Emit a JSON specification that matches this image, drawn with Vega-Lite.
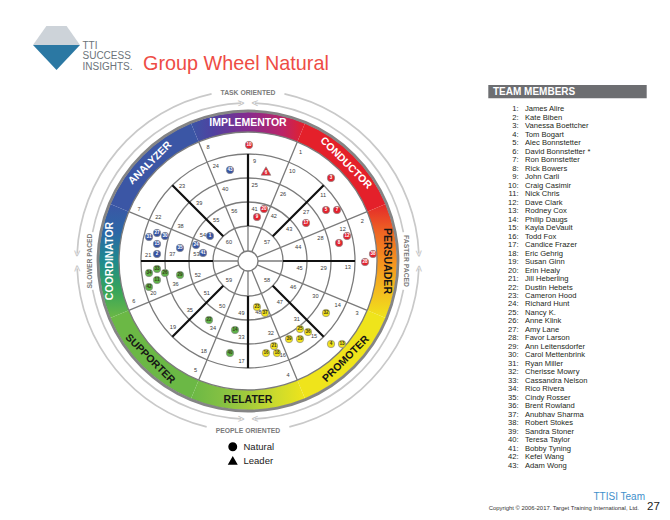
{
  "$schema": "https://vega.github.io/schema/vega-lite/v6.json",
  "width": 670,
  "height": 520,
  "autosize": "none",
  "padding": 0,
  "background": "white",
  "config": {
    "view": {"stroke": null},
    "axis": {"disable": true},
    "font": "Liberation Sans",
    "text": {"font": "Liberation Sans"}
  },
  "title": {
    "text": "Group Wheel Natural",
    "anchor": "start",
    "frame": "group",
    "offset": 0,
    "dx": 143,
    "dy": 90,
    "baseline": "alphabetic",
    "fontSize": 19.8,
    "fontWeight": "normal",
    "font": "Liberation Sans",
    "color": "#ee4c45"
  },
  "datasets": {
    "band": [
      {"s": "IMPLEMENTOR", "a": -22.5, "b": 22.5, "c": 0},
      {"s": "CONDUCTOR", "a": 22.5, "b": 67.5, "c": 45},
      {"s": "PERSUADER", "a": 67.5, "b": 112.5, "c": 90},
      {"s": "PROMOTER", "a": 112.5, "b": 157.5, "c": 135},
      {"s": "RELATER", "a": 157.5, "b": 202.5, "c": 180},
      {"s": "SUPPORTER", "a": 202.5, "b": 247.5, "c": 225},
      {"s": "COORDINATOR", "a": 247.5, "b": 292.5, "c": 270},
      {"s": "ANALYZER", "a": 292.5, "b": 337.5, "c": 315}
    ],
    "team": [
      {"id": 1, "name": "James Alire"}, {"id": 2, "name": "Kate Biben"}, {"id": 3, "name": "Vanessa Boettcher"},
      {"id": 4, "name": "Tom Bogart"}, {"id": 5, "name": "Alec Bonnstetter"}, {"id": 6, "name": "David Bonnstetter *"},
      {"id": 7, "name": "Ron Bonnstetter"}, {"id": 8, "name": "Rick Bowers"}, {"id": 9, "name": "John Carli"},
      {"id": 10, "name": "Craig Casimir"}, {"id": 11, "name": "Nick Chris"}, {"id": 12, "name": "Dave Clark"},
      {"id": 13, "name": "Rodney Cox"}, {"id": 14, "name": "Philip Daugs"}, {"id": 15, "name": "Kayla DeVault"},
      {"id": 16, "name": "Todd Fox"}, {"id": 17, "name": "Candice Frazer"}, {"id": 18, "name": "Eric Gehrig"},
      {"id": 19, "name": "Susan Ginn"}, {"id": 20, "name": "Erin Healy"}, {"id": 21, "name": "Jill Heberling"},
      {"id": 22, "name": "Dustin Hebets"}, {"id": 23, "name": "Cameron Hood"}, {"id": 24, "name": "Richard Hunt"},
      {"id": 25, "name": "Nancy K."}, {"id": 26, "name": "Anne Klink"}, {"id": 27, "name": "Amy Lane"},
      {"id": 28, "name": "Favor Larson"}, {"id": 29, "name": "Ann Leitensdorfer"}, {"id": 30, "name": "Carol Mettenbrink"},
      {"id": 31, "name": "Ryan Miller"}, {"id": 32, "name": "Cherisse Mowry"}, {"id": 33, "name": "Cassandra Nelson"},
      {"id": 34, "name": "Rico Rivera"}, {"id": 35, "name": "Cindy Rosser"}, {"id": 36, "name": "Brent Rowland"},
      {"id": 37, "name": "Anubhav Sharma"}, {"id": 38, "name": "Robert Stokes"}, {"id": 39, "name": "Sandra Stoner"},
      {"id": 40, "name": "Teresa Taylor"}, {"id": 41, "name": "Bobby Tyning"}, {"id": 42, "name": "Kefei Wang"},
      {"id": 43, "name": "Adam Wong"}
    ],
    "people": [
      {"n": 10, "g": "R", "k": "Natural", "x": 1, "y": 116},
      {"n": 6, "g": "R", "k": "Leader", "x": 18, "y": 90},
      {"n": 20, "g": "R", "k": "Natural", "x": 16, "y": 52},
      {"n": 9, "g": "R", "k": "Natural", "x": 9, "y": 44},
      {"n": 3, "g": "R", "k": "Natural", "x": 83, "y": 83},
      {"n": 5, "g": "R", "k": "Natural", "x": 78, "y": 51},
      {"n": 7, "g": "R", "k": "Natural", "x": 89, "y": 51},
      {"n": 17, "g": "R", "k": "Natural", "x": 58, "y": 38},
      {"n": 12, "g": "R", "k": "Natural", "x": 99, "y": 25},
      {"n": 8, "g": "R", "k": "Natural", "x": 91, "y": 18},
      {"n": 38, "g": "R", "k": "Natural", "x": 125, "y": 7},
      {"n": 28, "g": "R", "k": "Natural", "x": 117, "y": -1},
      {"n": 43, "g": "B", "k": "Natural", "x": -18, "y": 91},
      {"n": 31, "g": "B", "k": "Natural", "x": -99, "y": 24},
      {"n": 27, "g": "B", "k": "Natural", "x": -91, "y": 28},
      {"n": 30, "g": "B", "k": "Natural", "x": -83, "y": 25},
      {"n": 15, "g": "B", "k": "Natural", "x": -91, "y": 17},
      {"n": 2, "g": "B", "k": "Natural", "x": -91, "y": 7},
      {"n": 35, "g": "B", "k": "Natural", "x": -68, "y": 13},
      {"n": 24, "g": "B", "k": "Natural", "x": -52, "y": 16},
      {"n": 41, "g": "B", "k": "Natural", "x": -45, "y": 8},
      {"n": 1, "g": "B", "k": "Natural", "x": -38, "y": 25},
      {"n": 34, "g": "G", "k": "Natural", "x": -99, "y": -12},
      {"n": 33, "g": "G", "k": "Natural", "x": -91, "y": -8},
      {"n": 26, "g": "G", "k": "Natural", "x": -83, "y": -12},
      {"n": 11, "g": "G", "k": "Natural", "x": -91, "y": -19},
      {"n": 42, "g": "G", "k": "Natural", "x": -99, "y": -26},
      {"n": 29, "g": "G", "k": "Natural", "x": -68, "y": -14},
      {"n": 22, "g": "G", "k": "Natural", "x": -39, "y": -59},
      {"n": 14, "g": "G", "k": "Natural", "x": -13, "y": -69},
      {"n": 40, "g": "G", "k": "Natural", "x": -18, "y": -92},
      {"n": 23, "g": "Y", "k": "Natural", "x": 9, "y": -46},
      {"n": 37, "g": "Y", "k": "Natural", "x": 17, "y": -52},
      {"n": 32, "g": "Y", "k": "Natural", "x": 78, "y": -52},
      {"n": 25, "g": "Y", "k": "Natural", "x": 52, "y": -68},
      {"n": 36, "g": "Y", "k": "Natural", "x": 60, "y": -71},
      {"n": 39, "g": "Y", "k": "Natural", "x": 41, "y": -78},
      {"n": 19, "g": "Y", "k": "Natural", "x": 52, "y": -78},
      {"n": 21, "g": "Y", "k": "Natural", "x": 26, "y": -85},
      {"n": 16, "g": "Y", "k": "Natural", "x": 18, "y": -92},
      {"n": 18, "g": "Y", "k": "Natural", "x": 29, "y": -92},
      {"n": 4, "g": "Y", "k": "Natural", "x": 83, "y": -83},
      {"n": 13, "g": "Y", "k": "Natural", "x": 94, "y": -83}
    ]
  },
  "layer": [
    {
      "layer": [
        {
          "data": {"name": "band"},
          "transform": [{"filter": "indexof(['CONDUCTOR','PROMOTER','SUPPORTER','ANALYZER'], datum.s) >= 0"}],
          "mark": {"type": "arc"},
          "encoding": {
            "x": {"datum": 0, "type": "quantitative", "scale": {"domain": [-248, 422], "nice": false, "zero": false}},
            "y": {"datum": 0, "type": "quantitative", "scale": {"domain": [-259, 261], "nice": false, "zero": false}},
            "theta": {"field": "a", "type": "quantitative", "stack": null, "scale": {"type": "linear", "domain": [0, 360], "range": [0, 6.283185307179586], "zero": false, "nice": false}},
            "theta2": {"field": "b"},
            "radius": {"datum": 129, "type": "quantitative", "scale": {"type": "linear", "domain": [0, 200], "range": [0, 200], "zero": true, "nice": false}},
            "radius2": {"datum": 149},
            "fill": {"field": "s", "type": "nominal", "legend": null, "scale": {"domain": ["CONDUCTOR", "PROMOTER", "SUPPORTER", "ANALYZER"], "range": ["#e4202a", "#efe41b", "#6bb845", "#3b56a5"]}}
          }
        },
        {
          "data": {"name": "band"},
          "transform": [{"filter": "datum.s === 'IMPLEMENTOR'"}],
          "mark": {"type": "arc", "fill": {"gradient": "linear", "x1": 0, "y1": 0.5, "x2": 1, "y2": 0.5, "stops": [{"offset": 0, "color": "#3b56a5"}, {"offset": 0.2, "color": "#5041a0"}, {"offset": 0.5, "color": "#862b8e"}, {"offset": 0.8, "color": "#bb2468"}, {"offset": 1, "color": "#e4202a"}]}},
          "encoding": {
            "x": {"datum": 0, "type": "quantitative", "scale": {"domain": [-248, 422], "nice": false, "zero": false}},
            "y": {"datum": 0, "type": "quantitative", "scale": {"domain": [-259, 261], "nice": false, "zero": false}},
            "theta": {"field": "a", "type": "quantitative", "stack": null},
            "theta2": {"field": "b"},
            "radius": {"datum": 129, "type": "quantitative"},
            "radius2": {"datum": 149}
          }
        },
        {
          "data": {"name": "band"},
          "transform": [{"filter": "datum.s === 'PERSUADER'"}],
          "mark": {"type": "arc", "fill": {"gradient": "linear", "x1": 0.5, "y1": 0, "x2": 0.5, "y2": 1, "stops": [{"offset": 0, "color": "#e4282a"}, {"offset": 0.25, "color": "#ee6523"}, {"offset": 0.5, "color": "#f5911f"}, {"offset": 0.78, "color": "#f4bf1f"}, {"offset": 1, "color": "#efe41b"}]}},
          "encoding": {
            "x": {"datum": 0, "type": "quantitative", "scale": {"domain": [-248, 422], "nice": false, "zero": false}},
            "y": {"datum": 0, "type": "quantitative", "scale": {"domain": [-259, 261], "nice": false, "zero": false}},
            "theta": {"field": "a", "type": "quantitative", "stack": null},
            "theta2": {"field": "b"},
            "radius": {"datum": 129, "type": "quantitative"},
            "radius2": {"datum": 149}
          }
        },
        {
          "data": {"name": "band"},
          "transform": [{"filter": "datum.s === 'RELATER'"}],
          "mark": {"type": "arc", "fill": {"gradient": "linear", "x1": 1, "y1": 0.5, "x2": 0, "y2": 0.5, "stops": [{"offset": 0, "color": "#efe41b"}, {"offset": 0.25, "color": "#cddb2c"}, {"offset": 0.5, "color": "#a3ca3b"}, {"offset": 0.75, "color": "#82c043"}, {"offset": 1, "color": "#6bb845"}]}},
          "encoding": {
            "x": {"datum": 0, "type": "quantitative", "scale": {"domain": [-248, 422], "nice": false, "zero": false}},
            "y": {"datum": 0, "type": "quantitative", "scale": {"domain": [-259, 261], "nice": false, "zero": false}},
            "theta": {"field": "a", "type": "quantitative", "stack": null},
            "theta2": {"field": "b"},
            "radius": {"datum": 129, "type": "quantitative"},
            "radius2": {"datum": 149}
          }
        },
        {
          "data": {"name": "band"},
          "transform": [{"filter": "datum.s === 'COORDINATOR'"}],
          "mark": {"type": "arc", "fill": {"gradient": "linear", "x1": 0.5, "y1": 1, "x2": 0.5, "y2": 0, "stops": [{"offset": 0, "color": "#6bb845"}, {"offset": 0.25, "color": "#35a45a"}, {"offset": 0.5, "color": "#1f8a8e"}, {"offset": 0.75, "color": "#2c67a6"}, {"offset": 1, "color": "#3b56a5"}]}},
          "encoding": {
            "x": {"datum": 0, "type": "quantitative", "scale": {"domain": [-248, 422], "nice": false, "zero": false}},
            "y": {"datum": 0, "type": "quantitative", "scale": {"domain": [-259, 261], "nice": false, "zero": false}},
            "theta": {"field": "a", "type": "quantitative", "stack": null},
            "theta2": {"field": "b"},
            "radius": {"datum": 129, "type": "quantitative"},
            "radius2": {"datum": 149}
          }
        },
        {
          "data": {"values": [{"ring": "border"}]},
          "mark": {"type": "arc", "color": "#858585"},
          "encoding": {
            "x": {"datum": 0, "type": "quantitative", "scale": {"domain": [-248, 422], "nice": false, "zero": false}},
            "y": {"datum": 0, "type": "quantitative", "scale": {"domain": [-259, 261], "nice": false, "zero": false}},
            "theta": {"datum": 0, "type": "quantitative"},
            "theta2": {"datum": 360},
            "radius": {"datum": 148.6, "type": "quantitative"},
            "radius2": {"datum": 151.4}
          }
        },
        {
          "data": {"values": [{"r": 10}, {"r": 35}, {"r": 59}, {"r": 83}, {"r": 107}, {"r": 129}]},
          "mark": {"type": "arc", "filled": false, "color": "#7b7b7b", "strokeWidth": 1.3},
          "encoding": {
            "x": {"datum": 0, "type": "quantitative", "scale": {"domain": [-248, 422], "nice": false, "zero": false}},
            "y": {"datum": 0, "type": "quantitative", "scale": {"domain": [-259, 261], "nice": false, "zero": false}},
            "theta": {"datum": 0, "type": "quantitative"},
            "theta2": {"datum": 360},
            "radius": {"field": "r", "type": "quantitative"},
            "radius2": {"field": "r"}
          }
        },
        {
          "data": {"values": [
            {"t": 22.5, "r1": 10, "r2": 129}, {"t": 67.5, "r1": 10, "r2": 129}, {"t": 112.5, "r1": 10, "r2": 129}, {"t": 157.5, "r1": 10, "r2": 129},
            {"t": 202.5, "r1": 10, "r2": 129}, {"t": 247.5, "r1": 10, "r2": 129}, {"t": 292.5, "r1": 10, "r2": 129}, {"t": 337.5, "r1": 10, "r2": 129},
            {"t": 0, "r1": 10, "r2": 35}, {"t": 90, "r1": 10, "r2": 35}, {"t": 180, "r1": 10, "r2": 35}, {"t": 270, "r1": 10, "r2": 35}
          ]},
          "mark": {"type": "arc", "filled": false, "color": "#7b7b7b", "strokeWidth": 1.3, "strokeJoin": "bevel"},
          "encoding": {
            "x": {"datum": 0, "type": "quantitative", "scale": {"domain": [-248, 422], "nice": false, "zero": false}},
            "y": {"datum": 0, "type": "quantitative", "scale": {"domain": [-259, 261], "nice": false, "zero": false}},
            "theta": {"field": "t", "type": "quantitative", "stack": null},
            "theta2": {"field": "t"},
            "radius": {"field": "r1", "type": "quantitative"},
            "radius2": {"field": "r2"}
          }
        },
        {
          "data": {"values": [{"t": 0}, {"t": 45}, {"t": 90}, {"t": 135}, {"t": 180}, {"t": 225}, {"t": 270}, {"t": 315}]},
          "mark": {"type": "arc", "filled": false, "color": "#111111", "strokeWidth": 2.2, "strokeJoin": "bevel"},
          "encoding": {
            "x": {"datum": 0, "type": "quantitative", "scale": {"domain": [-248, 422], "nice": false, "zero": false}},
            "y": {"datum": 0, "type": "quantitative", "scale": {"domain": [-259, 261], "nice": false, "zero": false}},
            "theta": {"field": "t", "type": "quantitative", "stack": null},
            "theta2": {"field": "t"},
            "radius": {"datum": 35, "type": "quantitative"},
            "radius2": {"datum": 107}
          }
        },
        {
          "data": {"values": [
            {"n": 1, "t": 25.7, "r": 121}, {"n": 2, "t": 70.7, "r": 121}, {"n": 3, "t": 115.7, "r": 121}, {"n": 4, "t": 160.7, "r": 121},
            {"n": 5, "t": 205.7, "r": 121}, {"n": 6, "t": 250.7, "r": 121}, {"n": 7, "t": 295.7, "r": 121}, {"n": 8, "t": 340.7, "r": 121},
            {"n": 9, "t": 3.7, "r": 100}, {"n": 10, "t": 26.2, "r": 100}, {"n": 11, "t": 48.7, "r": 100}, {"n": 12, "t": 71.2, "r": 100},
            {"n": 13, "t": 93.7, "r": 100}, {"n": 14, "t": 116.2, "r": 100}, {"n": 15, "t": 138.7, "r": 100}, {"n": 16, "t": 159.6, "r": 100},
            {"n": 17, "t": 183.7, "r": 100}, {"n": 18, "t": 206.2, "r": 100}, {"n": 19, "t": 228.7, "r": 100}, {"n": 20, "t": 251.2, "r": 100},
            {"n": 21, "t": 273.7, "r": 100}, {"n": 22, "t": 296.2, "r": 100}, {"n": 23, "t": 318.7, "r": 100}, {"n": 24, "t": 341.2, "r": 100},
            {"n": 25, "t": 5, "r": 76}, {"n": 26, "t": 27.5, "r": 76}, {"n": 27, "t": 50, "r": 76}, {"n": 28, "t": 72.5, "r": 76},
            {"n": 29, "t": 95, "r": 76}, {"n": 30, "t": 117.5, "r": 76}, {"n": 31, "t": 140, "r": 76}, {"n": 32, "t": 162.5, "r": 76},
            {"n": 33, "t": 185, "r": 76}, {"n": 34, "t": 207.5, "r": 76}, {"n": 35, "t": 230, "r": 76}, {"n": 36, "t": 252.5, "r": 76},
            {"n": 37, "t": 275, "r": 76}, {"n": 38, "t": 297.5, "r": 76}, {"n": 39, "t": 320, "r": 76}, {"n": 40, "t": 342.5, "r": 76},
            {"n": 41, "t": 7.3, "r": 52}, {"n": 42, "t": 29.8, "r": 52}, {"n": 43, "t": 52.3, "r": 52}, {"n": 44, "t": 74.8, "r": 52},
            {"n": 45, "t": 97.3, "r": 52}, {"n": 46, "t": 119.8, "r": 52}, {"n": 47, "t": 142.3, "r": 52}, {"n": 48, "t": 168.5, "r": 52},
            {"n": 49, "t": 187.3, "r": 52}, {"n": 50, "t": 209.8, "r": 52}, {"n": 51, "t": 232.3, "r": 52}, {"n": 52, "t": 254.8, "r": 52},
            {"n": 53, "t": 277.3, "r": 52}, {"n": 54, "t": 299.8, "r": 52}, {"n": 55, "t": 322.3, "r": 52}, {"n": 56, "t": 344.8, "r": 52},
            {"n": 57, "t": 45, "r": 27}, {"n": 58, "t": 135, "r": 27}, {"n": 59, "t": 225, "r": 27}, {"n": 60, "t": 315, "r": 27}
          ]},
          "mark": {"type": "text", "fontSize": 5.6, "color": "#3a3a3a", "align": "center", "baseline": "middle"},
          "encoding": {
            "x": {"datum": 0, "type": "quantitative", "scale": {"domain": [-248, 422], "nice": false, "zero": false}},
            "y": {"datum": 0, "type": "quantitative", "scale": {"domain": [-259, 261], "nice": false, "zero": false}},
            "theta": {"field": "t", "type": "quantitative"},
            "radius": {"field": "r", "type": "quantitative"},
            "text": {"field": "n", "type": "nominal"}
          }
        },
        {
          "data": {"name": "band"},
          "mark": {"type": "text", "fontSize": 10.5, "fontWeight": "bold", "align": "center", "baseline": "middle",
                   "angle": {"expr": "datum.c > 90 && datum.c < 270 ? datum.c - 180 : datum.c"}},
          "encoding": {
            "x": {"datum": 0, "type": "quantitative", "scale": {"domain": [-248, 422], "nice": false, "zero": false}},
            "y": {"datum": 0, "type": "quantitative", "scale": {"domain": [-259, 261], "nice": false, "zero": false}},
            "theta": {"field": "c", "type": "quantitative"},
            "radius": {"datum": 138.5, "type": "quantitative"},
            "text": {"field": "s", "type": "nominal"},
            "color": {"condition": {"test": "indexof(['PERSUADER','PROMOTER','RELATER','SUPPORTER'], datum.s) >= 0", "value": "#161616"}, "value": "#ffffff"}
          }
        },
        {
          "data": {"values": [
            {"a": 12.3, "b": 87.5, "r": 171}, {"a": 92.5, "b": 166, "r": 171}, {"a": 194, "b": 267.5, "r": 171}, {"a": 272.5, "b": 347.7, "r": 171},
            {"a": 2.5, "b": 79.5, "r": 158}, {"a": 100.5, "b": 177.5, "r": 158}, {"a": 182.5, "b": 259.5, "r": 158}, {"a": 280.5, "b": 357.5, "r": 158}
          ]},
          "mark": {"type": "arc", "filled": false, "color": "#c9c9c9", "strokeWidth": 1.7, "strokeJoin": "bevel"},
          "encoding": {
            "x": {"datum": 0, "type": "quantitative", "scale": {"domain": [-248, 422], "nice": false, "zero": false}},
            "y": {"datum": 0, "type": "quantitative", "scale": {"domain": [-259, 261], "nice": false, "zero": false}},
            "theta": {"field": "a", "type": "quantitative", "stack": null},
            "theta2": {"field": "b"},
            "radius": {"field": "r", "type": "quantitative"},
            "radius2": {"field": "r"}
          }
        },
        {
          "data": {"values": [
            {"t": 87.5, "r": 171, "d": "cw"}, {"t": 92.5, "r": 171, "d": "ccw"}, {"t": 267.5, "r": 171, "d": "cw"}, {"t": 272.5, "r": 171, "d": "ccw"},
            {"t": 357.5, "r": 158, "d": "cw"}, {"t": 2.5, "r": 158, "d": "ccw"}, {"t": 177.5, "r": 158, "d": "cw"}, {"t": 182.5, "r": 158, "d": "ccw"}
          ]},
          "mark": {"type": "text", "text": ">", "fontSize": 12, "color": "#c3c3c3", "align": "center", "baseline": "middle",
                   "angle": {"expr": "datum.d === 'cw' ? datum.t : datum.t + 180"}},
          "encoding": {
            "x": {"datum": 0, "type": "quantitative", "scale": {"domain": [-248, 422], "nice": false, "zero": false}},
            "y": {"datum": 0, "type": "quantitative", "scale": {"domain": [-259, 261], "nice": false, "zero": false}},
            "theta": {"field": "t", "type": "quantitative"},
            "radius": {"field": "r", "type": "quantitative"}
          }
        },
        {
          "data": {"values": [
            {"label": "TASK ORIENTED", "t": 0, "r": 168},
            {"label": "FASTER PACED", "t": 90, "r": 158},
            {"label": "PEOPLE ORIENTED", "t": 180, "r": 170},
            {"label": "SLOWER PACED", "t": 270, "r": 158}
          ]},
          "mark": {"type": "text", "fontSize": 6.8, "fontWeight": "bold", "color": "#7b7b7b", "align": "center", "baseline": "middle",
                   "angle": {"expr": "datum.t > 90 && datum.t < 270 ? datum.t - 180 : datum.t"}},
          "encoding": {
            "x": {"datum": 0, "type": "quantitative", "scale": {"domain": [-248, 422], "nice": false, "zero": false}},
            "y": {"datum": 0, "type": "quantitative", "scale": {"domain": [-259, 261], "nice": false, "zero": false}},
            "theta": {"field": "t", "type": "quantitative"},
            "radius": {"field": "r", "type": "quantitative"},
            "text": {"field": "label", "type": "nominal"}
          }
        },
        {
          "data": {"name": "people"},
          "mark": {"type": "point", "filled": true, "opacity": 1, "stroke": "#8d8d8d", "strokeWidth": 0.7},
          "encoding": {
            "x": {"field": "x", "type": "quantitative", "scale": {"domain": [-248, 422], "nice": false, "zero": false}},
            "y": {"field": "y", "type": "quantitative", "scale": {"domain": [-259, 261], "nice": false, "zero": false}},
            "color": {"field": "g", "type": "nominal", "legend": null, "scale": {"domain": ["R", "B", "G", "Y"], "range": ["#e41f2b", "#3552a2", "#5db346", "#f2e21a"]}},
            "shape": {"field": "k", "type": "nominal", "scale": {"domain": ["Natural", "Leader"], "range": ["circle", "triangle-up"]},
                      "legend": {"title": null, "orient": "none", "legendX": 228, "legendY": 442, "labelFontSize": 9.5, "labelColor": "#1a1a1a", "labelFont": "Liberation Sans",
                                 "symbolSize": 55, "symbolFillColor": "#000000", "symbolStrokeColor": "#000000", "rowPadding": 0, "labelOffset": 6, "padding": 0}},
            "size": {"condition": {"test": "datum.k === 'Leader'", "value": 95}, "value": 55}
          }
        },
        {
          "data": {"name": "people"},
          "mark": {"type": "text", "fontSize": 4.6, "fontWeight": "bold", "align": "center", "baseline": "middle",
                   "dy": {"expr": "datum.k === 'Leader' ? 1.5 : 0"}},
          "encoding": {
            "x": {"field": "x", "type": "quantitative", "scale": {"domain": [-248, 422], "nice": false, "zero": false}},
            "y": {"field": "y", "type": "quantitative", "scale": {"domain": [-259, 261], "nice": false, "zero": false}},
            "text": {"field": "n", "type": "nominal"},
            "color": {"condition": {"test": "datum.g === 'Y' || datum.g === 'G'", "value": "#3a3a1a"}, "value": "#ffffff"}
          }
        },
        {
          "data": {"values": [{"logo": "crown"}]},
          "mark": {"type": "point", "filled": true, "opacity": 1, "shape": "M-0.43,-0.81L0.43,-0.81L1,0L-1,0Z", "size": 2209, "color": "#cdd3d9"},
          "encoding": {
            "x": {"datum": -191.5, "type": "quantitative", "scale": {"domain": [-248, 422], "nice": false, "zero": false}},
            "y": {"datum": 216, "type": "quantitative", "scale": {"domain": [-259, 261], "nice": false, "zero": false}}
          }
        },
        {
          "data": {"values": [{"logo": "pavilion"}]},
          "mark": {"type": "point", "filled": true, "opacity": 1, "shape": "M-1,0L1,0L0,1.06Z", "size": 2209, "color": "#2b78a3"},
          "encoding": {
            "x": {"datum": -191.5, "type": "quantitative", "scale": {"domain": [-248, 422], "nice": false, "zero": false}},
            "y": {"datum": 216, "type": "quantitative", "scale": {"domain": [-259, 261], "nice": false, "zero": false}}
          }
        },
        {
          "data": {"values": [{"logo": "text"}]},
          "mark": {"type": "text", "text": ["TTI", "SUCCESS", "INSIGHTS."], "lineHeight": 10.8, "fontSize": 10, "color": "#6c737a", "align": "left", "baseline": "alphabetic"},
          "encoding": {
            "x": {"datum": -165.5, "type": "quantitative", "scale": {"domain": [-248, 422], "nice": false, "zero": false}},
            "y": {"datum": 212.4, "type": "quantitative", "scale": {"domain": [-259, 261], "nice": false, "zero": false}}
          }
        },
        {
          "data": {"values": [{"box": "header"}]},
          "mark": {"type": "rect", "color": "#6d6e71"},
          "encoding": {
            "x": {"datum": 240.3, "type": "quantitative", "scale": {"domain": [-248, 422], "nice": false, "zero": false}},
            "x2": {"datum": 398.7},
            "y": {"datum": 176, "type": "quantitative", "scale": {"domain": [-259, 261], "nice": false, "zero": false}},
            "y2": {"datum": 162.7}
          }
        },
        {
          "data": {"values": [{"box": "header"}]},
          "mark": {"type": "text", "text": "TEAM MEMBERS", "fontSize": 10, "fontWeight": "bold", "color": "#ffffff", "align": "left", "baseline": "middle"},
          "encoding": {
            "x": {"datum": 245, "type": "quantitative", "scale": {"domain": [-248, 422], "nice": false, "zero": false}},
            "y": {"datum": 169.3, "type": "quantitative", "scale": {"domain": [-259, 261], "nice": false, "zero": false}}
          }
        },
        {
          "data": {"values": [{"foot": "team"}]},
          "mark": {"type": "text", "text": "TTISI Team", "fontSize": 10, "color": "#3f8fcb", "align": "right", "baseline": "middle"},
          "encoding": {
            "x": {"datum": 397, "type": "quantitative", "scale": {"domain": [-248, 422], "nice": false, "zero": false}},
            "y": {"datum": -235.7, "type": "quantitative", "scale": {"domain": [-259, 261], "nice": false, "zero": false}}
          }
        },
        {
          "data": {"values": [{"foot": "copyright"}]},
          "mark": {"type": "text", "text": "Copyright © 2006-2017. Target Training International, Ltd.", "fontSize": 5.9, "color": "#333333", "align": "right", "baseline": "middle"},
          "encoding": {
            "x": {"datum": 391, "type": "quantitative", "scale": {"domain": [-248, 422], "nice": false, "zero": false}},
            "y": {"datum": -247.3, "type": "quantitative", "scale": {"domain": [-259, 261], "nice": false, "zero": false}}
          }
        },
        {
          "data": {"values": [{"foot": "page"}]},
          "mark": {"type": "text", "text": "27", "fontSize": 11.5, "color": "#222222", "align": "left", "baseline": "middle"},
          "encoding": {
            "x": {"datum": 399, "type": "quantitative", "scale": {"domain": [-248, 422], "nice": false, "zero": false}},
            "y": {"datum": -245.7, "type": "quantitative", "scale": {"domain": [-259, 261], "nice": false, "zero": false}}
          }
        }
      ]
    },
    {
      "data": {"name": "team"},
      "encoding": {
        "y": {"field": "id", "type": "quantitative", "scale": {"domain": [1, 43], "range": [109.3, 465.7], "nice": false, "zero": false}}
      },
      "layer": [
        {
          "mark": {"type": "text", "align": "right", "baseline": "middle", "fontSize": 7.6, "color": "#231f20", "text": {"expr": "datum.id + ':'"}},
          "encoding": {
            "x": {"datum": 270.5, "type": "quantitative", "scale": {"domain": [-248, 422], "nice": false, "zero": false}}
          }
        },
        {
          "mark": {"type": "text", "align": "left", "baseline": "middle", "fontSize": 7.6, "color": "#231f20"},
          "encoding": {
            "x": {"datum": 277, "type": "quantitative", "scale": {"domain": [-248, 422], "nice": false, "zero": false}},
            "text": {"field": "name", "type": "nominal"}
          }
        }
      ]
    }
  ],
  "resolve": {"scale": {"y": "independent"}}
}
